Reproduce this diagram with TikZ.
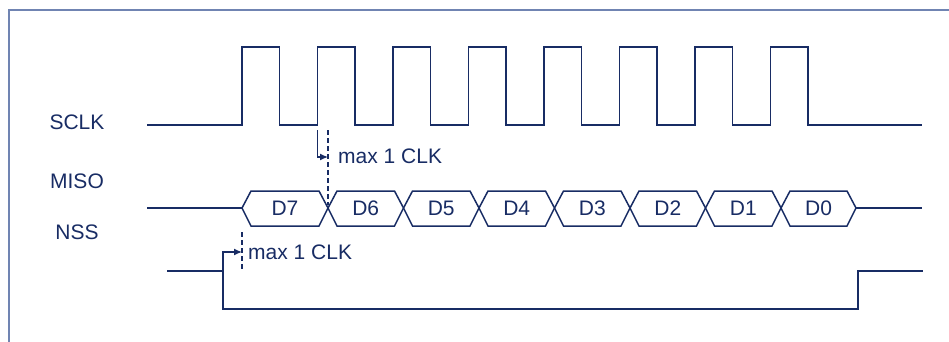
\documentclass[tikz,border=0pt]{standalone}
\usepackage{fontspec}
\setmainfont{Liberation Sans}
\usetikzlibrary{arrows.meta, positioning, calc}
\definecolor{navy}{RGB}{24,44,100}
\definecolor{framegrey}{RGB}{112,132,178}

\begin{document}
\begin{tikzpicture}[x=1pt, y=-1pt,
    every node/.style={font=\fontsize{21}{25}\selectfont, text=navy, inner sep=0pt},
    sig/.style={draw=navy, line width=1.5pt},
    hint/.style={draw=navy, line width=1.2pt, dashed, dash pattern=on 5pt off 3pt},
    delay/.style={draw=navy, line width=1.2pt, -{Latex[length=8pt, width=7pt]}}]
  \useasboundingbox (0,0) rectangle (949,342);
  % frame
  \draw[framegrey, line width=1.6pt] (9,342) -- (9,10) -- (949,10);
  % signal names
  \node (sclk) at (77,122) {SCLK};
  \node (miso) at (77,181) {MISO};
  \node (nss)  at (77,232) {NSS};
  % clock
  \draw[sig] (147,125)
    \foreach \k in {0,...,7} { -- ({242+75.5*\k},125) -- ++(0,-78) -- ++(37.7,0) -- ++(0,78) }
    -- (922,125);
  % data bits
  \draw[sig] (147,208) -- (242,208);
  \foreach \a/\b/\t in {242/328/D7, 328/403.5/D6, 403.5/479/D5, 479/554.5/D4,
                        554.5/630/D3, 630/705.5/D2, 705.5/781/D1, 781/856/D0} {
    \draw[sig] (\a,208) -- (\a+9,191) -- (\b-9,191) -- (\b,208)
      -- (\b-9,226) -- (\a+9,226) -- cycle;
    \node (\t) at ({(\a+\b)/2},208) {\t};
  }
  \draw[sig] (856,208) -- (922,208);
  % slave select
  \draw[sig] (167,271) -- (223,271) -- (223,309) -- (858,309) -- (858,271) -- (923,271);
  % clock to data delay
  \coordinate (edge1) at (317.5,130);
  \coordinate (mark1) at (328,130);
  \coordinate (tip1)  at (328,157);
  \draw[hint] (mark1) -- (328,205);
  \draw[delay] (edge1) |- (tip1);
  \node[anchor=west] (clk1) at (338,156) {max 1 CLK};
  % select to first bit delay
  \coordinate (edge2) at (223,270);
  \coordinate (mark2) at (242,232);
  \coordinate (tip2)  at (242,252);
  \draw[hint] (mark2) -- (242,271);
  \draw[delay] (edge2) |- (tip2);
  \node[anchor=west] (clk2) at (248,252) {max 1 CLK};
\end{tikzpicture}
\end{document}
